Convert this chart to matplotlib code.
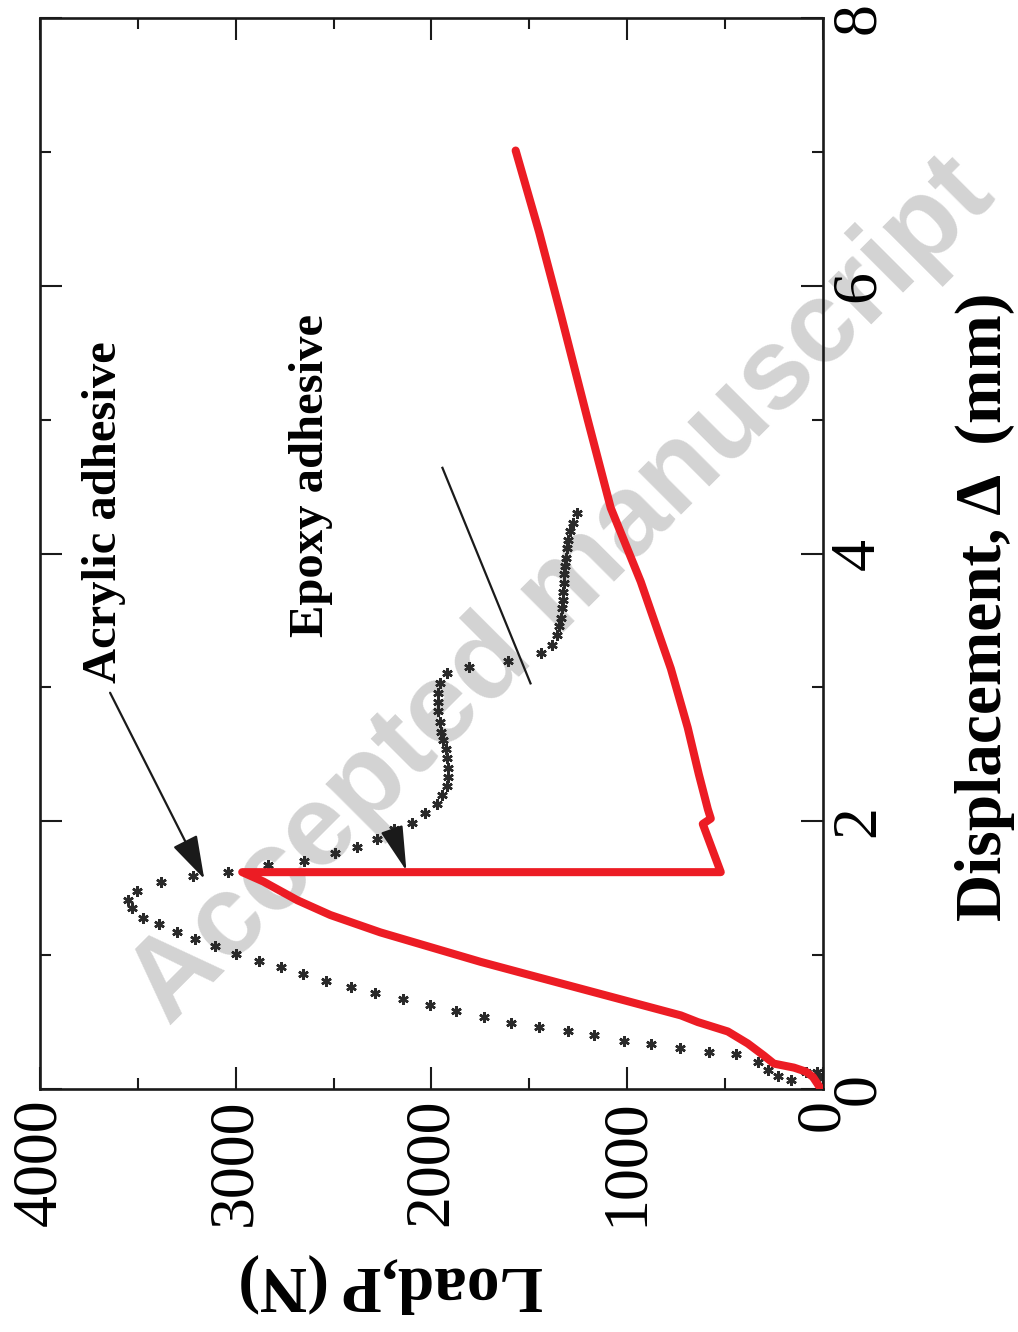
import matplotlib
matplotlib.use('Agg')
import matplotlib.pyplot as plt
import numpy as np

# the chart is drawn "on its side": load runs along the bottom (inverted),
# displacement runs up the right-hand side
load_ticks = [0, 1000, 2000, 3000, 4000]
disp_ticks = [0, 2, 4, 6, 8]

# red curve (load N, displacement mm)
red_load = [10, 51, 87, 148, 251, 302, 384, 486, 639, 726, 982, 1238, 1494,
            1749, 2005, 2261, 2517, 2685, 2859, 2967,
            522, 614, 573, 588, 634, 691, 777, 931, 1084, 1202, 1340, 1450, 1570]
red_disp = [0.0, 0.09, 0.13, 0.16, 0.19, 0.25, 0.34, 0.43, 0.50, 0.55, 0.65, 0.75, 0.85,
            0.95, 1.06, 1.17, 1.30, 1.41, 1.55, 1.62,
            1.62, 1.98, 2.02, 2.09, 2.35, 2.70, 3.14, 3.79, 4.34, 5.00, 5.79, 6.40, 7.01]

# dotted curve (markers only)
dot_load = [5, 20, 31, 87, 164, 230, 281, 332, 445, 583, 731, 880, 1018, 1171, 1304,
            1453, 1596, 1734, 1877, 2010, 2148, 2286, 2409, 2537, 2655, 2767, 2880,
            2997, 3105, 3207, 3299, 3391, 3473, 3529, 3550, 3504, 3381, 3217, 3038,
            2834, 2650, 2491, 2379, 2276, 2189, 2102, 2031, 1974, 1944, 1923, 1918,
            1918, 1923, 1928, 1939, 1949, 1959, 1969, 1969, 1969, 1959, 1923, 1806,
            1611, 1442, 1386, 1361, 1350, 1340, 1335, 1330, 1330, 1325, 1325, 1320,
            1315, 1309, 1304, 1294, 1279, 1258]
dot_disp = [0.01, 0.08, 0.13, 0.13, 0.07, 0.10, 0.14, 0.20, 0.26, 0.28, 0.31, 0.34, 0.36,
            0.40, 0.43, 0.46, 0.49, 0.54, 0.58, 0.63, 0.67, 0.72, 0.76, 0.81, 0.86,
            0.91, 0.96, 1.01, 1.07, 1.12, 1.17, 1.23, 1.28, 1.35, 1.41, 1.48, 1.55,
            1.59, 1.62, 1.67, 1.70, 1.76, 1.81, 1.87, 1.94, 1.99, 2.06, 2.13, 2.20,
            2.26, 2.33, 2.40, 2.47, 2.54, 2.61, 2.67, 2.74, 2.82, 2.89, 2.96, 3.03,
            3.11, 3.15, 3.20, 3.26, 3.32, 3.39, 3.46, 3.52, 3.59, 3.65, 3.71, 3.78,
            3.85, 3.91, 3.97, 4.04, 4.10, 4.17, 4.23, 4.30]

plt.rcParams['font.family'] = ['Liberation Serif', 'DejaVu Serif']

fig = plt.figure(figsize=(10.18, 13.32), dpi=100)
ax = fig.add_axes([0.0393, 0.1824, 0.7691, 0.8041])
ax.patch.set_alpha(0)

# watermark behind the data
fig.text(0.552, 0.556, 'Accepted manuscript', rotation=45, ha='center', va='center',
         fontsize=83, fontweight='bold', family='Liberation Sans', color='#d3d3d3',
         zorder=-5)

ax.plot(red_load, red_disp, color='#ec1c24', lw=5.8, solid_capstyle='round',
        solid_joinstyle='round', zorder=3)
ax.plot(dot_load, dot_disp, ls='none', marker=(6, 2, 0), ms=7.5, mew=1.8,
        color='#2a2a2a', zorder=2)

# annotations
ax.text(3673, 4.31, 'Acrylic adhesive', rotation=90, ha='center', va='center',
        fontsize=35, fontweight='bold')
ax.text(2614, 4.58, 'Epoxy adhesive', rotation=90, ha='center', va='center',
        fontsize=35, fontweight='bold')
ax.annotate('', xy=(3161, 1.57), xytext=(3642, 2.96),
            arrowprops=dict(arrowstyle='-|>,head_length=1.35,head_width=0.42',
                            color='#1a1a1a', lw=1.6, mutation_scale=20,
                            shrinkA=0, shrinkB=0))
ax.annotate('', xy=(2128, 1.63), xytext=(2200, 1.93),
            arrowprops=dict(arrowstyle='-|>,head_length=1.4,head_width=0.36',
                            color='#1a1a1a', lw=1.6, mutation_scale=20,
                            shrinkA=0, shrinkB=0))
ax.plot([1944, 1494], [4.64, 3.03], color='#1a1a1a', lw=1.6)

ax.set_xlim(4000, 0)
ax.set_ylim(0, 8)
ax.set_xticks(load_ticks)
ax.set_xticks(np.arange(500, 4000, 1000), minor=True)
ax.set_yticks(disp_ticks)
ax.set_yticks([1, 3, 5, 7], minor=True)

for s in ax.spines.values():
    s.set_linewidth(1.9)
    s.set_color('#1a1a1a')

ax.tick_params(which='both', direction='in', top=True, bottom=True, left=True, right=True,
               labelleft=False, labelright=True, color='#1a1a1a', width=1.5)
ax.tick_params(which='major', length=16)
ax.tick_params(which='minor', length=8)
ax.tick_params(axis='x', labelsize=46, pad=7, labelrotation=90)
ax.tick_params(axis='y', labelsize=46, pad=5, labelrotation=90)
for lab in ax.get_yticklabels():
    lab.set_va('center')

ax.set_xlabel('Load,P (N)', fontsize=47, fontweight='bold', rotation=180, va='center')
ax.xaxis.set_label_coords(0.448, -0.181)
ax.yaxis.set_label_position('right')
ax.set_ylabel('Displacement, \u0394  (mm)', fontsize=47, fontweight='bold', rotation=90,
              va='center', ha='center')
ax.yaxis.set_label_coords(1.207, 0.450)

fig.savefig('out.png', dpi=100)
